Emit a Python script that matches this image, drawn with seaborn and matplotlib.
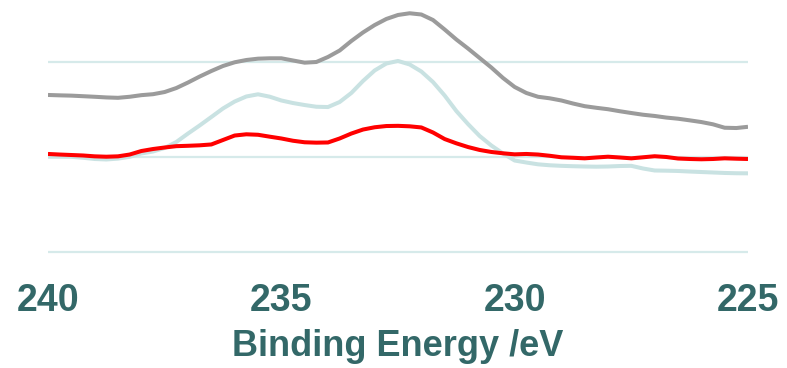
import matplotlib
matplotlib.use("Agg")
import matplotlib.pyplot as plt
import seaborn as sns
import pandas as pd

# Binding energy grid (eV), high to low, 0.25 eV steps
energy = [240.00, 239.75, 239.50, 239.25, 239.00, 238.75, 238.50, 238.25, 238.00, 237.75,
          237.50, 237.25, 237.00, 236.75, 236.50, 236.25, 236.00, 235.75, 235.50, 235.25,
          235.00, 234.75, 234.50, 234.25, 234.00, 233.75, 233.50, 233.25, 233.00, 232.75,
          232.50, 232.25, 232.00, 231.75, 231.50, 231.25, 231.00, 230.75, 230.50, 230.25,
          230.00, 229.75, 229.50, 229.25, 229.00, 228.75, 228.50, 228.25, 228.00, 227.75,
          227.50, 227.25, 227.00, 226.75, 226.50, 226.25, 226.00, 225.75, 225.50, 225.25,
          225.00]

# Intensity traces (arbitrary units, gridlines at 0 / 100 / 200)
gray_trace = [165.3, 164.9, 164.6, 164.0, 163.4, 162.7, 162.3, 163.4, 165.1, 166.1,
              168.4, 172.6, 178.4, 184.7, 190.5, 195.8, 199.7, 202.1, 203.5, 203.9,
              203.9, 201.6, 199.3, 200.0, 205.3, 212.1, 222.1, 231.1, 238.9, 245.3,
              249.5, 251.3, 250.0, 244.2, 234.2, 223.7, 214.2, 204.2, 194.2, 183.2,
              173.7, 167.4, 163.4, 161.8, 159.5, 156.3, 153.5, 151.8, 150.3, 148.2,
              146.3, 144.5, 143.2, 141.5, 140.3, 138.6, 136.8, 134.4, 130.8, 130.5,
              131.8]
blue_trace = [100.3, 100.3, 100.2, 99.2, 97.9, 97.4, 98.3, 100.2, 103.7, 105.8,
              109.5, 115.8, 124.7, 133.2, 142.1, 151.1, 158.4, 163.7, 166.0, 163.5,
              159.5, 156.8, 154.7, 152.9, 152.6, 157.9, 167.4, 180.0, 191.1, 198.4,
              201.1, 197.4, 190.0, 178.9, 164.7, 148.4, 134.7, 122.1, 112.1, 103.7,
              96.3, 94.2, 92.3, 91.3, 90.7, 90.3, 90.0, 89.8, 90.0, 90.5,
              90.7, 87.9, 85.8, 85.6, 85.3, 84.7, 84.2, 83.7, 83.2, 82.9,
              82.8]
red_trace = [103.2, 102.6, 102.1, 101.6, 100.7, 100.3, 100.7, 102.6, 106.3, 108.4,
             110.0, 111.4, 111.8, 112.3, 113.2, 117.9, 122.6, 123.9, 123.4, 121.4,
             119.5, 117.1, 115.5, 115.1, 115.3, 119.5, 124.7, 128.9, 131.3, 132.6,
             132.8, 132.3, 131.1, 125.8, 118.9, 114.4, 110.5, 107.4, 105.3, 103.9,
             102.8, 103.2, 102.6, 101.3, 99.7, 99.2, 98.6, 99.5, 100.3, 99.5,
             98.6, 99.7, 100.8, 100.0, 98.4, 97.9, 97.6, 97.9, 98.6, 98.2,
             97.9]

x_ticks = [240, 235, 230, 225]
x_label = "Binding Energy /eV"

TEXT_COLOR = "#336868"
GRID_COLOR = "#d6eaea"
palette = {"gray": "#9b9b9b", "blue": "#c9e2e2", "red": "#ff0000"}

df = pd.concat([
    pd.DataFrame({"energy": energy, "intensity": gray_trace, "trace": "gray"}),
    pd.DataFrame({"energy": energy, "intensity": blue_trace, "trace": "blue"}),
    pd.DataFrame({"energy": energy, "intensity": red_trace, "trace": "red"}),
])

sns.set_style("white")
plt.rcParams["font.family"] = ["Liberation Sans", "DejaVu Sans"]

W, H = 787, 368
fig = plt.figure(figsize=(W / 100, H / 100), dpi=100)

y_lo, y_hi = -5, 260
px_per_unit = 0.95
bottom_px = 252 + (0 - y_lo) * px_per_unit
top_px = 252 - y_hi * px_per_unit
ax = fig.add_axes([48 / W, 1 - bottom_px / H, 700 / W, (bottom_px - top_px) / H])

sns.lineplot(data=df, x="energy", y="intensity", hue="trace",
             hue_order=["gray", "blue", "red"], palette=palette,
             sort=False, estimator=None, linewidth=2.9, legend=False, ax=ax,
             solid_joinstyle="round", solid_capstyle="butt")

ax.set_xlim(240, 225)
ax.set_ylim(y_lo, y_hi)
ax.set_yticks([0, 100, 200])
ax.set_yticklabels([])
ax.tick_params(axis="y", length=0)
ax.grid(axis="y", color=GRID_COLOR, linewidth=1.6, zorder=0)
ax.grid(axis="x", visible=False)
ax.set_axisbelow(True)
for s in ax.spines.values():
    s.set_visible(False)

ax.set_xticks(x_ticks)
ax.set_xticklabels([str(t) for t in x_ticks], fontsize=27, fontweight="bold",
                   color=TEXT_COLOR)
ax.tick_params(axis="x", length=0, pad=19)
ax.set_xlabel(x_label, fontsize=26, fontweight="bold", color=TEXT_COLOR,
              labelpad=7)
ax.set_ylabel("")

fig.savefig("out.png", dpi=100)
